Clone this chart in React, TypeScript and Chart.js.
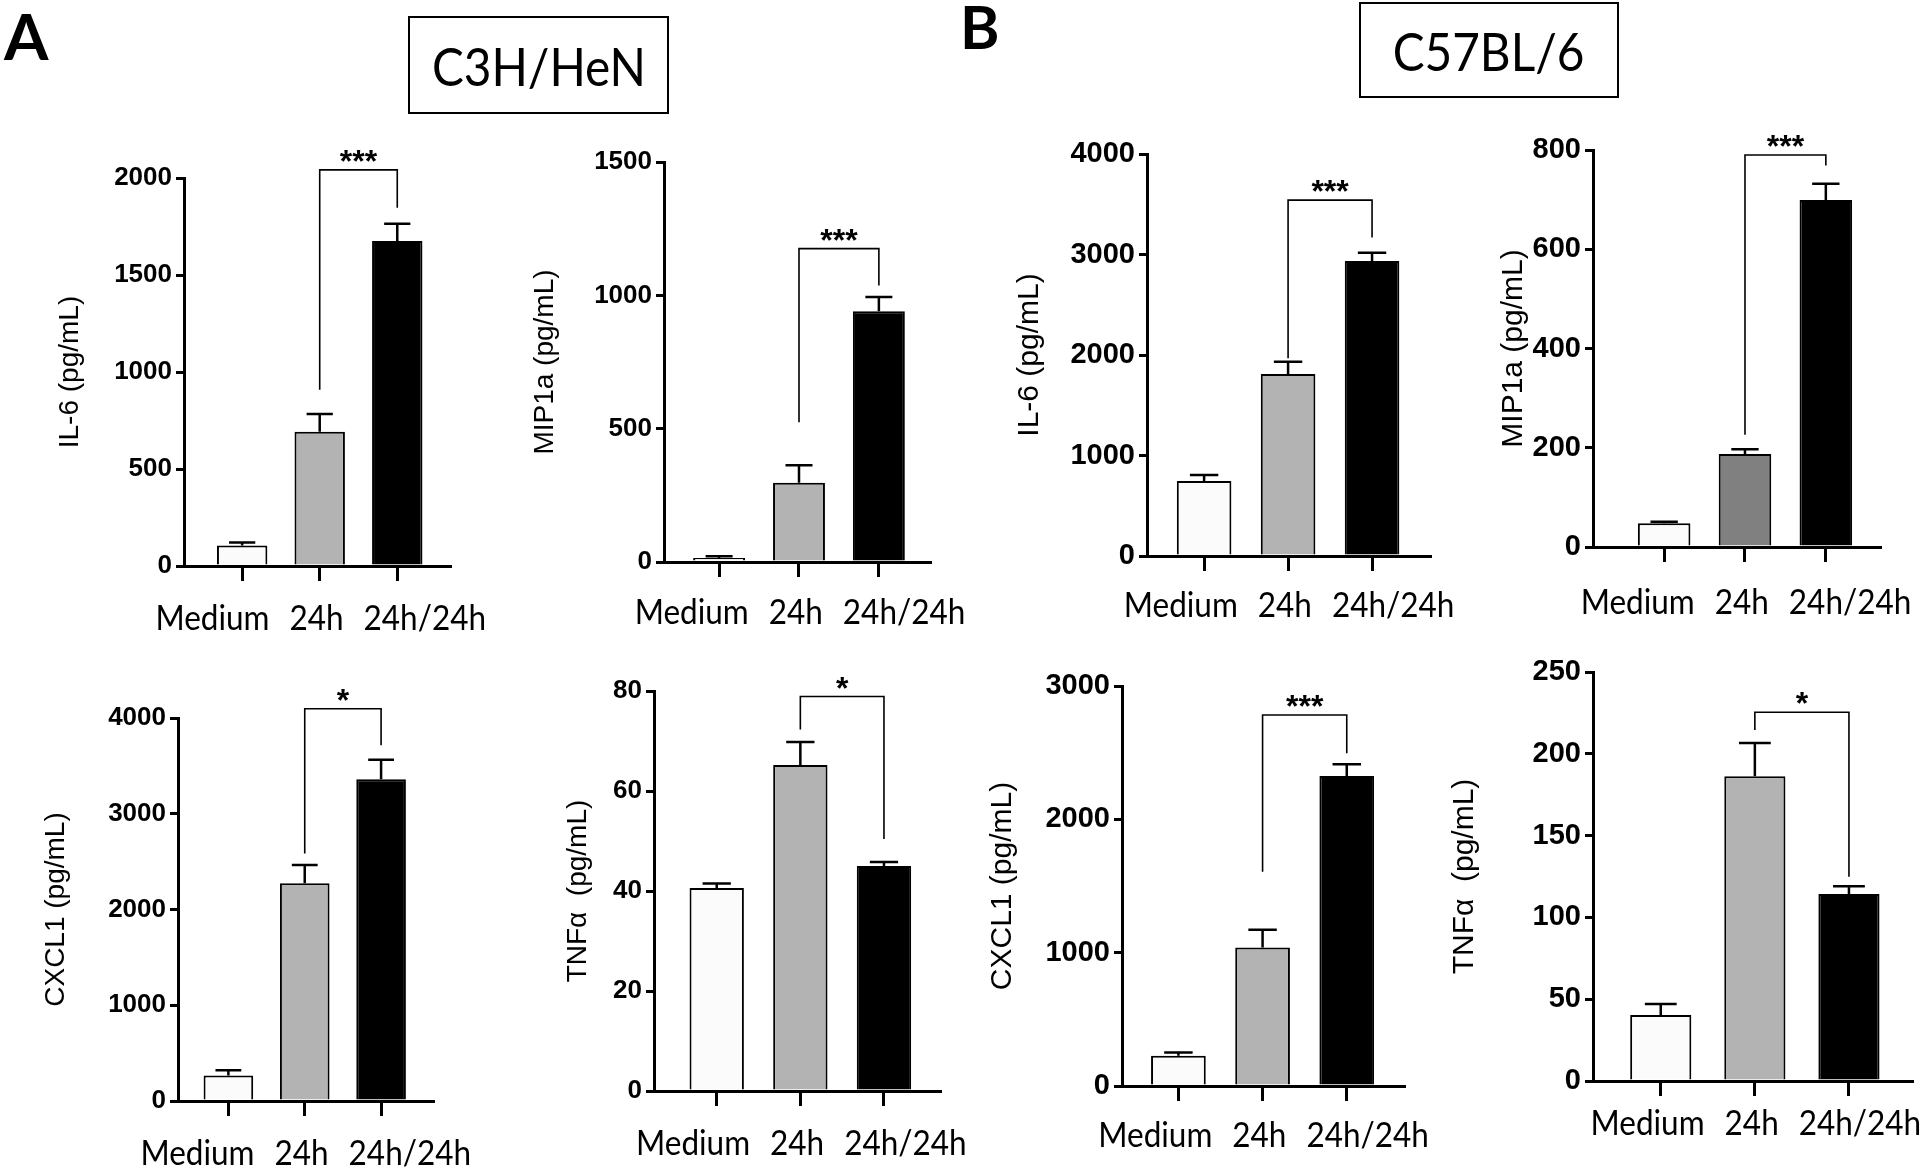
import React, { useEffect, useRef } from "react";
import { Chart, registerables } from "chart.js";

Chart.register(...registerables);

// ---------- data ----------
const CATEGORIES = ["Medium", "24h", "24h/24h"];

// Panel A: C3H/HeN
const A_IL6_MEAN = [106, 692, 1675];
const A_IL6_SEM = [15, 91, 89];
const A_IL6_SIG = [2042, 909, 1847]; // bracket top, left leg end, right leg end
const A_MIP1A_MEAN = [15, 297, 940];
const A_MIP1A_SEM = [7, 66, 54];
const A_MIP1A_SIG = [1175, 524, 1037];
const A_CXCL1_MEAN = [267, 2273, 3361];
const A_CXCL1_SEM = [53, 192, 203];
const A_CXCL1_SIG = [4097, 2584, 3716];
const A_TNFA_MEAN = [40.6, 65.2, 45.0];
const A_TNFA_SEM = [0.9, 4.6, 0.8];
const A_TNFA_SIG = [78.9, 72.3, 50.4];

// Panel B: C57BL/6
const B_IL6_MEAN = [746, 1811, 2936];
const B_IL6_SEM = [60, 122, 82];
const B_IL6_SIG = [3541, 1968, 3169];
const B_MIP1A_MEAN = [48, 187.5, 699];
const B_MIP1A_SEM = [3, 9.5, 33];
const B_MIP1A_SIG = [790, 226, 769];
const B_CXCL1_MEAN = [227, 1038, 2325];
const B_CXCL1_SEM = [25, 133, 89];
const B_CXCL1_SIG = [2782, 1606, 2496];
const B_TNFA_MEAN = [40.3, 186.3, 114.3];
const B_TNFA_SEM = [6.7, 20.3, 4.7];
const B_TNFA_SIG = [225.4, 214.6, 124.8];

// ---------- styles ----------
const BAR_COLORS = ["#fbfbfb", "#b3b3b3", "#000000"];
const BAR_COLORS_DARK = ["#fbfbfb", "#808080", "#000000"];
const ARIAL = '"Liberation Sans", Arial, sans-serif';
const CALIBRI = 'Lato, "Open Sans", sans-serif';

const PAD_TOP = 100;
const X_AXIS_H = 95;
const PAD_RIGHT = 70;

type Box = {
  axisX: number; topY: number; zeroY: number; rightX: number;
  xMin: number; xMax: number; titleGap: number;
  tickSize: number; titleSize: number; labelDy: number; starSize: number;
};
type PanelDef = {
  title: string; mean: number[]; sem: number[]; sig: number[]; star: string;
  yMax: number; yStep: number; colors: string[]; box: Box;
};

const PANELS: PanelDef[] = [
  { title: "IL-6 (pg/mL)", mean: A_IL6_MEAN, sem: A_IL6_SEM, sig: A_IL6_SIG, star: "***", yMax: 2000, yStep: 500, colors: BAR_COLORS,
    box: { axisX: 184, topY: 178, zeroY: 566, rightX: 450, xMin: -0.75, xMax: 2.68, titleGap: 114, tickSize: 26, titleSize: 28, labelDy: 53, starSize: 32 } },
  { title: "MIP1a (pg/mL)", mean: A_MIP1A_MEAN, sem: A_MIP1A_SEM, sig: A_MIP1A_SIG, star: "***", yMax: 1500, yStep: 500, colors: BAR_COLORS,
    box: { axisX: 664, topY: 162, zeroY: 562, rightX: 930, xMin: -0.69, xMax: 2.64, titleGap: 119, tickSize: 26, titleSize: 28, labelDy: 51, starSize: 32 } },
  { title: "CXCL1 (pg/mL)", mean: A_CXCL1_MEAN, sem: A_CXCL1_SEM, sig: A_CXCL1_SIG, star: "*", yMax: 4000, yStep: 1000, colors: BAR_COLORS,
    box: { axisX: 178, topY: 718, zeroY: 1101, rightX: 433, xMin: -0.66, xMax: 2.68, titleGap: 122, tickSize: 26, titleSize: 28, labelDy: 53, starSize: 32 } },
  { title: "TNFα  (pg/mL)", mean: A_TNFA_MEAN, sem: A_TNFA_SEM, sig: A_TNFA_SIG, star: "*", yMax: 80, yStep: 20, colors: BAR_COLORS,
    box: { axisX: 654, topY: 691, zeroY: 1091, rightX: 940, xMin: -0.75, xMax: 2.67, titleGap: 76, tickSize: 26, titleSize: 28, labelDy: 53, starSize: 32 } },
  { title: "IL-6 (pg/mL)", mean: B_IL6_MEAN, sem: B_IL6_SEM, sig: B_IL6_SIG, star: "***", yMax: 4000, yStep: 1000, colors: BAR_COLORS,
    box: { axisX: 1147, topY: 154, zeroY: 556, rightX: 1430, xMin: -0.68, xMax: 2.69, titleGap: 117, tickSize: 29, titleSize: 30, labelDy: 50, starSize: 32 } },
  { title: "MIP1a (pg/mL)", mean: B_MIP1A_MEAN, sem: B_MIP1A_SEM, sig: B_MIP1A_SIG, star: "***", yMax: 800, yStep: 200, colors: BAR_COLORS_DARK,
    box: { axisX: 1593, topY: 150, zeroY: 547, rightX: 1880, xMin: -0.88, xMax: 2.67, titleGap: 79, tickSize: 29, titleSize: 30, labelDy: 56, starSize: 32 } },
  { title: "CXCL1 (pg/mL)", mean: B_CXCL1_MEAN, sem: B_CXCL1_SEM, sig: B_CXCL1_SIG, star: "***", yMax: 3000, yStep: 1000, colors: BAR_COLORS,
    box: { axisX: 1122, topY: 686, zeroY: 1086, rightX: 1404, xMin: -0.67, xMax: 2.68, titleGap: 119, tickSize: 29, titleSize: 30, labelDy: 50, starSize: 32 } },
  { title: "TNFα  (pg/mL)", mean: B_TNFA_MEAN, sem: B_TNFA_SEM, sig: B_TNFA_SIG, star: "*", yMax: 250, yStep: 50, colors: BAR_COLORS,
    box: { axisX: 1593, topY: 672, zeroY: 1081, rightX: 1912, xMin: -0.72, xMax: 2.67, titleGap: 128, tickSize: 29, titleSize: 30, labelDy: 43, starSize: 32 } },
];

function overlayPlugin(p: PanelDef) {
  return {
    id: "overlay",
    afterDatasetsDraw(chart: any) {
      const { ctx } = chart;
      const x = chart.scales.x;
      const y = chart.scales.y;
      const meta = chart.getDatasetMeta(0);
      ctx.save();
      ctx.strokeStyle = "#000";
      ctx.fillStyle = "#000";
      ctx.lineCap = "butt";
      // error bars (upper only)
      p.mean.forEach((m, i) => {
        const px = x.getPixelForValue(i);
        const y0 = y.getPixelForValue(m);
        const y1 = y.getPixelForValue(m + p.sem[i]);
        const bw = meta.data[i].width;
        const cw = bw * 0.52;
        ctx.lineWidth = 2.5;
        ctx.beginPath();
        ctx.moveTo(px, y0);
        ctx.lineTo(px, y1);
        ctx.moveTo(px - cw / 2, y1);
        ctx.lineTo(px + cw / 2, y1);
        ctx.stroke();
      });
      // significance bracket
      const [top, lEnd, rEnd] = p.sig;
      const xl = x.getPixelForValue(1);
      const xr = x.getPixelForValue(2);
      const yt = y.getPixelForValue(top);
      ctx.lineWidth = 1.6;
      ctx.beginPath();
      ctx.moveTo(xl, y.getPixelForValue(lEnd));
      ctx.lineTo(xl, yt);
      ctx.lineTo(xr, yt);
      ctx.lineTo(xr, y.getPixelForValue(rEnd));
      ctx.stroke();
      ctx.font = `bold ${p.box.starSize}px ${ARIAL}`;
      ctx.textAlign = "center";
      ctx.textBaseline = "alphabetic";
      ctx.fillText(p.star, (xl + xr) / 2, yt + 2);
      // category labels (condensed, Calibri-like)
      const sx = 0.9;
      ctx.font = `35px ${CALIBRI}`;
      ctx.textAlign = "left";
      ctx.textBaseline = "middle";
      const widths = CATEGORIES.map((c) => ctx.measureText(c).width * sx);
      const gap = 20;
      const total = widths.reduce((a, w) => a + w, 0) + gap * (CATEGORIES.length - 1);
      let cx = x.getPixelForValue(1) + 1 - total / 2;
      const ly = y.getPixelForValue(0) + p.box.labelDy;
      CATEGORIES.forEach((c, i) => {
        ctx.save();
        ctx.translate(cx, ly);
        ctx.scale(sx, 1);
        ctx.fillText(c, 0, 0);
        ctx.restore();
        cx += widths[i] + gap;
      });
      ctx.restore();
    },
  };
}

function BarPanel({ p }: { p: PanelDef }) {
  const ref = useRef<HTMLCanvasElement>(null);
  const b = p.box;
  const left = Math.round(b.axisX - (b.titleGap + b.titleSize * 0.6 + 2));
  const yAxisW = b.axisX - left;
  const top = b.topY - PAD_TOP;
  const width = Math.round(b.rightX + PAD_RIGHT - left);
  const height = b.zeroY + X_AXIS_H - top;

  useEffect(() => {
    const canvas = ref.current!;
    const gridStyle = (len: number) => ({
      display: true,
      drawOnChartArea: false,
      drawTicks: true,
      tickLength: len,
      tickWidth: 3,
      tickColor: "#000",
      color: "#000",
      lineWidth: 3,
      offset: false,
    });
    const chart = new Chart(canvas, {
      type: "bar",
      data: {
        labels: CATEGORIES,
        datasets: [
          {
            data: p.mean.map((v, i) => ({ x: i, y: v })),
            backgroundColor: p.colors,
            borderColor: "#000",
            borderWidth: 2,
            barPercentage: 0.65,
            categoryPercentage: 1,
          },
        ],
      },
      options: {
        responsive: false,
        animation: false,
        events: [],
        layout: { padding: { top: PAD_TOP, right: PAD_RIGHT, bottom: 0, left: 0 } },
        plugins: { legend: { display: false }, tooltip: { enabled: false } },
        scales: {
          x: {
            type: "linear",
            min: b.xMin,
            max: b.xMax,
            offset: false,
            afterBuildTicks: (axis: any) => {
              axis.ticks = CATEGORIES.map((_, i) => ({ value: i }));
            },
            afterFit: (axis: any) => {
              axis.height = X_AXIS_H;
            },
            ticks: { display: false },
            grid: gridStyle(15),
            border: { display: true, color: "#000", width: 3 },
          },
          y: {
            min: 0,
            max: p.yMax,
            afterFit: (axis: any) => {
              axis.width = yAxisW;
            },
            ticks: {
              stepSize: p.yStep,
              color: "#000",
              padding: 4,
              font: { family: ARIAL, weight: "bold", size: b.tickSize },
              callback: (v: any) => String(v),
            },
            grid: gridStyle(8),
            border: { display: true, color: "#000", width: 3 },
            title: {
              display: true,
              text: p.title,
              color: "#000",
              font: { family: ARIAL, size: b.titleSize, weight: "normal" },
              padding: { top: 2, bottom: 0 },
            },
          },
        },
      } as any,
      plugins: [overlayPlugin(p)],
    } as any);
    return () => chart.destroy();
  }, []);

  return (
    <canvas
      ref={ref}
      width={width}
      height={height}
      style={{ position: "absolute", left, top, width, height }}
    />
  );
}

const boxStyle = (left: number, top: number, width: number, height: number): React.CSSProperties => ({
  position: "absolute", left, top, width, height, boxSizing: "border-box",
  border: "2px solid #000", display: "flex", alignItems: "center", justifyContent: "center",
  font: `53px ${CALIBRI}`, color: "#000",
});

export default function App() {
  return (
    <div
      style={{
        position: "absolute",
        left: 0,
        top: 0,
        width: 1920,
        height: 1176,
        overflow: "hidden",
        background: "#fff",
      }}
    >
      <div style={{ position: "absolute", left: 4, top: 4, font: `bold 64px ${CALIBRI}`, lineHeight: "64px", color: "#000" }}>A</div>
      <div style={{ position: "absolute", left: 960, top: -4, font: `bold 60px ${CALIBRI}`, lineHeight: "60px", color: "#000" }}>B</div>
      <div style={boxStyle(408, 16, 261, 98)}>
        <span style={{ display: "inline-block", transform: "scaleX(0.9)" }}>C3H/HeN</span>
      </div>
      <div style={boxStyle(1359, 2, 260, 96)}>
        <span style={{ display: "inline-block", transform: "scaleX(0.9)" }}>C57BL/6</span>
      </div>
      {PANELS.map((p, i) => (
        <BarPanel key={i} p={p} />
      ))}
    </div>
  );
}
